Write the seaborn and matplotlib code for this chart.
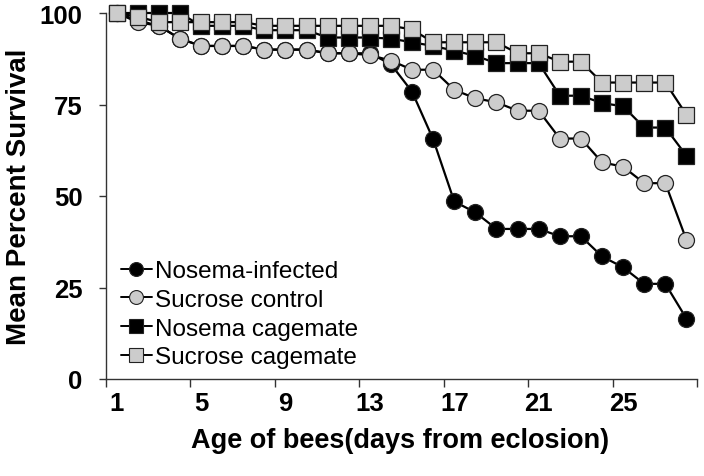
import matplotlib
matplotlib.use("Agg")
import matplotlib.pyplot as plt
import seaborn as sns
import pandas as pd
from matplotlib.lines import Line2D

days = list(range(1, 29))
nosema_infected = [100, 98, 96.5, 93, 91, 91, 91, 90, 90, 90, 89, 89, 89, 86, 78.5, 65.5,
                   48.5, 45.5, 41, 41, 41, 39, 39, 33.5, 30.5, 26, 26, 16.5]
sucrose_control = [100, 97.5, 96.5, 93, 91, 91, 91, 90, 90, 90, 89, 89, 88.5, 87, 84.5, 84.5,
                   79, 76.7, 75.6, 73.3, 73.3, 65.7, 65.7, 59.2, 58, 53.5, 53.5, 38]
nosema_cagemate = [100, 100, 100, 100, 96.5, 96.5, 96.5, 95.3, 95.3, 95.3, 93.3, 93.3, 93.3, 93,
                   92, 91, 89.7, 88.3, 86.3, 86.3, 86.3, 77.4, 77.4, 75.4, 74.5, 68.7, 68.7, 61]
sucrose_cagemate = [100, 99, 97.5, 97.5, 97.5, 97.5, 97.5, 96.5, 96.5, 96.5, 96.5, 96.5, 96.5, 96.5,
                    95.5, 92, 92, 92, 92, 89, 89, 86.7, 86.7, 81, 81, 81, 81, 72.2]
series_names = ["Nosema-infected", "Sucrose control", "Nosema cagemate", "Sucrose cagemate"]
x_tick_labels = ["1", "5", "9", "13", "17", "21", "25"]
y_ticks = [0, 25, 50, 75, 100]

sns.set_theme(style="white")
plt.rcParams["font.family"] = ["Liberation Sans", "DejaVu Sans"]
plt.rcParams.update({"text.color": "black", "axes.labelcolor": "black",
                     "xtick.color": "black", "ytick.color": "black"})

frames = []
for name, vals in zip(series_names, [nosema_infected, sucrose_control, nosema_cagemate, sucrose_cagemate]):
    frames.append(pd.DataFrame({"day": days, "survival": vals, "group": name}))
df = pd.concat(frames, ignore_index=True)

styles = {
    "Nosema-infected": dict(marker="o", mfc="black"),
    "Sucrose control": dict(marker="o", mfc="#cccccc"),
    "Nosema cagemate": dict(marker="s", mfc="black"),
    "Sucrose cagemate": dict(marker="s", mfc="#cccccc"),
}

fig = plt.figure(figsize=(7.04, 4.77), dpi=100)
ax = fig.add_axes([106 / 704, 97 / 477, 591 / 704, 366 / 477])

handles = []
for i, name in enumerate(series_names):
    st = styles[name]
    sns.lineplot(data=df[df["group"] == name], x="day", y="survival", ax=ax,
                 color="black", linewidth=1.6, marker=st["marker"], markersize=11.5,
                 markerfacecolor=st["mfc"], markeredgecolor="#222222", markeredgewidth=0.9,
                 clip_on=False, zorder=3 + i, legend=False)
    handles.append(Line2D([0], [0], color="black", linewidth=1.4, marker=st["marker"],
                          markersize=10, markerfacecolor=st["mfc"], markeredgecolor="#222222",
                          markeredgewidth=0.8, label=name))

ax.set_xlim(0.5, 28.5)
ax.set_ylim(0, 100)
sns.despine(ax=ax)
for s in ["left", "bottom"]:
    ax.spines[s].set_color("#333333")
    ax.spines[s].set_linewidth(1.0)

major_x = [0.5 + 4 * k for k in range(8)]
ax.set_xticks(major_x)
ax.set_xticklabels([""] * len(major_x))
ax.set_xticks([1, 5, 9, 13, 17, 21, 25], minor=True)
ax.set_xticklabels(x_tick_labels, minor=True, fontsize=18.5, fontweight="bold")
ax.tick_params(axis="x", which="major", direction="out", length=6, width=1, color="#333333", bottom=True)
ax.tick_params(axis="x", which="minor", length=0, pad=9, bottom=True)

ax.set_yticks(y_ticks)
ax.set_yticklabels([str(v) for v in y_ticks], fontsize=18.5, fontweight="bold")
ax.tick_params(axis="y", direction="out", length=5, width=1, color="#333333", pad=12, left=True)

ax.set_xlabel("Age of bees(days from eclosion)", fontsize=19.5, fontweight="bold")
ax.set_ylabel("Mean Percent Survival", fontsize=20, fontweight="bold")
ax.xaxis.set_label_coords(0.497, -0.13)
ax.yaxis.set_label_coords(-0.125, 0.5)
ax.grid(False)

leg = ax.legend(handles=handles, loc="lower left", bbox_to_anchor=(0.0, -0.01),
                frameon=False, fontsize=17.5, handlelength=1.3, handletextpad=0.1,
                labelspacing=0.27, borderaxespad=0.2)

fig.savefig("out.png", dpi=100)
